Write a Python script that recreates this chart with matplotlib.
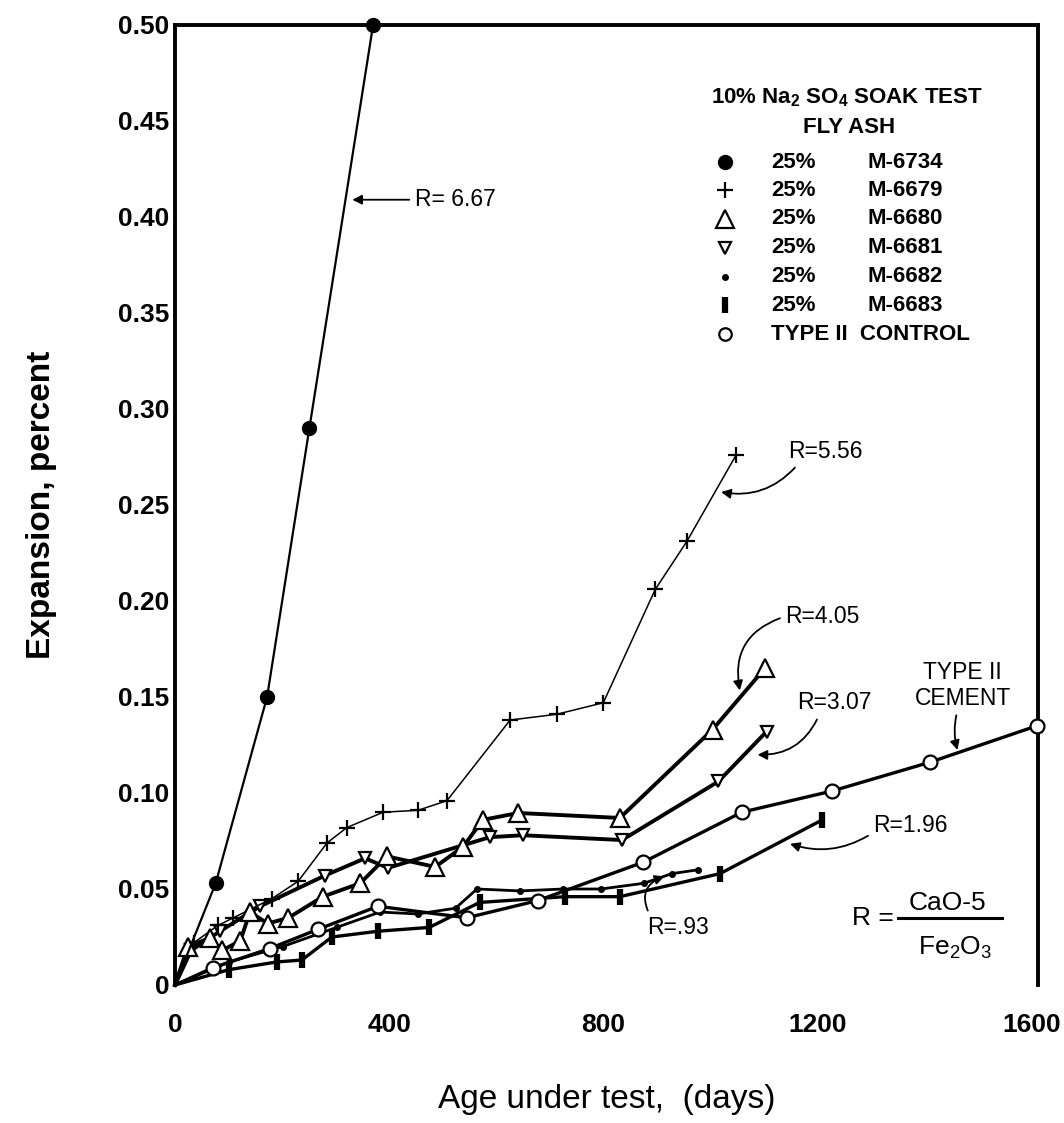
import matplotlib
matplotlib.use('Agg')
import matplotlib.pyplot as plt

plt.rcParams['font.family'] = ['Liberation Sans', 'DejaVu Sans']
plt.rcParams['mathtext.default'] = 'regular'

# ---------------- data (days, expansion %) ----------------
days_6734 = [0, 76, 172, 251, 370]
exp_6734 = [0, 0.053, 0.150, 0.29, 0.50]

days_6679 = [0, 35, 80, 109, 181, 230, 284, 321, 389, 454, 508, 626, 713, 800, 897, 956, 1048]
exp_6679 = [0, 0.022, 0.031, 0.035, 0.045, 0.054, 0.074, 0.082, 0.090, 0.091, 0.096,
            0.138, 0.141, 0.147, 0.206, 0.231, 0.276]

days_6680 = [0, 24, 65, 88, 122, 140, 173, 212, 276, 346, 396, 486, 538, 575, 641, 831, 1004, 1102]
exp_6680 = [0, 0.020, 0.0245, 0.018, 0.023, 0.038, 0.032, 0.035, 0.046, 0.053, 0.067,
            0.0615, 0.072, 0.086, 0.0896, 0.087, 0.133, 0.165]

days_6681 = [0, 30, 84, 159, 280, 355, 398, 588, 650, 835, 1015, 1105]
exp_6681 = [0, 0.018, 0.028, 0.041, 0.057, 0.066, 0.061, 0.077, 0.078, 0.0755, 0.106, 0.132]

days_6682 = [0, 101, 201, 302, 383, 453, 524, 564, 645, 725, 796, 876, 928, 977]
exp_6682 = [0, 0.012, 0.020, 0.030, 0.038, 0.037, 0.040, 0.050, 0.049, 0.050, 0.050, 0.053, 0.058, 0.060]

days_6683 = [0, 101, 190, 237, 293, 379, 475, 569, 728, 831, 1018, 1209]
exp_6683 = [0, 0.008, 0.012, 0.013, 0.025, 0.028, 0.030, 0.043, 0.046, 0.046, 0.058, 0.086]

days_ctrl = [0, 71, 177, 267, 379, 545, 678, 875, 1059, 1227, 1410, 1610]
exp_ctrl = [0, 0.009, 0.019, 0.029, 0.041, 0.035, 0.044, 0.064, 0.090, 0.101, 0.116, 0.135]

x_ticks = [0, 400, 800, 1200, 1600]
x_ticklabels = ['0', '400', '800', '1200', '1600']
y_ticks = [0, 0.05, 0.10, 0.15, 0.20, 0.25, 0.30, 0.35, 0.40, 0.45, 0.50]
y_ticklabels = ['0', '0.05', '0.10', '0.15', '0.20', '0.25', '0.30', '0.35', '0.40', '0.45', '0.50']

legend_pct = ['25%', '25%', '25%', '25%', '25%', '25%']
legend_ids = ['M-6734', 'M-6679', 'M-6680', 'M-6681', 'M-6682', 'M-6683']

# ---------------- figure ----------------
fig = plt.figure(figsize=(10.64, 11.23), dpi=100)
ax = fig.add_axes([175/1064, 1-985/1123, 863/1064, 960/1123])

K = 'black'
me = slice(1, None)
common = dict(color=K, clip_on=False, markevery=me)

ax.plot(days_6683, exp_6683, lw=2.4, marker='|', ms=12, mew=4.5, **common, zorder=3)
ax.plot(days_6682, exp_6682, lw=2.0, marker='o', ms=4, **common, zorder=3)
ax.plot(days_ctrl, exp_ctrl, lw=2.4, marker='o', ms=10, mfc='white', mew=1.6, **common, zorder=4)
ax.plot(days_6681, exp_6681, lw=2.8, marker='v', ms=9, mfc='white', mew=1.6, **common, zorder=4)
ax.plot(days_6680, exp_6680, lw=2.8, marker='^', ms=13, mfc='white', mew=1.6, **common, zorder=5)
ax.plot(days_6679, exp_6679, lw=1.1, marker='+', ms=12, mew=1.6, **common, zorder=4)
ax.plot(days_6734, exp_6734, lw=1.6, marker='o', ms=10, **common, zorder=6)

ax.set_xlim(0, 1612)
ax.set_ylim(0, 0.5)
ax.set_xticks(x_ticks)
ax.set_xticklabels(x_ticklabels)
ax.set_yticks(y_ticks)
ax.set_yticklabels(y_ticklabels)
ax.tick_params(length=0, labelsize=19)
ax.tick_params(axis='y', pad=4)
ax.tick_params(axis='x', pad=20)
for lab in ax.get_xticklabels() + ax.get_yticklabels():
    lab.set_fontweight('bold')
for s in ['left', 'top', 'right']:
    ax.spines[s].set_linewidth(2.8)
ax.spines['bottom'].set_visible(False)

ax.set_ylabel('Expansion, percent', fontsize=24, fontweight='bold', labelpad=44)
ax.set_xlabel('Age under test,  (days)', fontsize=24, labelpad=34)

# ---------------- annotations ----------------
fs = 16.5
ap = dict(arrowstyle='-|>', color=K, lw=1.3, mutation_scale=14)
ax.annotate('R= 6.67', xy=(326, 0.409), xytext=(448, 0.409), fontsize=fs, va='center',
            arrowprops=dict(ap, connectionstyle='arc3,rad=0'))
ax.annotate('R=5.56', xy=(1015, 0.257), xytext=(1145, 0.278), fontsize=fs, va='center',
            arrowprops=dict(ap, connectionstyle='arc3,rad=-0.3', relpos=(0.15, 0)))
ax.annotate('R=4.05', xy=(1056, 0.152), xytext=(1140, 0.192), fontsize=fs, va='center',
            arrowprops=dict(ap, connectionstyle='arc3,rad=0.45', relpos=(0, 0.5)))
ax.annotate('R=3.07', xy=(1083, 0.120), xytext=(1162, 0.147), fontsize=fs, va='center',
            arrowprops=dict(ap, connectionstyle='arc3,rad=-0.35', relpos=(0.3, 0)))
ax.annotate('TYPE II\nCEMENT', xy=(1463, 0.121), xytext=(1471, 0.156), fontsize=fs,
            ha='center', va='center', linespacing=1.15,
            arrowprops=dict(ap, connectionstyle='arc3,rad=0.15', relpos=(0.45, 0)))
ax.annotate('R=1.96', xy=(1144, 0.074), xytext=(1304, 0.083), fontsize=fs, va='center',
            arrowprops=dict(ap, connectionstyle='arc3,rad=-0.25', relpos=(0, 0.2)))
ax.annotate('R=.93', xy=(919, 0.057), xytext=(882, 0.030), fontsize=fs, va='center',
            arrowprops=dict(ap, connectionstyle='arc3,rad=-0.6', relpos=(0.05, 1)))

# formula
ff = 19
ax.text(1264, 0.035, 'R =', fontsize=ff, va='center', ha='left')
ax.text(1443, 0.0425, 'CaO-5', fontsize=ff, va='center', ha='center')
ax.text(1457, 0.0195, 'Fe$_2$O$_3$', fontsize=ff, va='center', ha='center')
ax.plot([1350, 1545], [0.035, 0.035], color=K, lw=2.2)

# ---------------- legend (drawn as text) ----------------
lf = 16
ax.text(0.778, 0.924, '10% Na$_2$ SO$_4$ SOAK TEST', transform=ax.transAxes,
        fontsize=lf, ha='center', va='center', fontweight='bold')
ax.text(0.781, 0.893, 'FLY ASH', transform=ax.transAxes,
        fontsize=lf, ha='center', va='center', fontweight='bold')
row_y = [0.857, 0.828, 0.798, 0.768, 0.7375, 0.708, 0.678]
leg_markers = [dict(marker='o', ms=10, mfc=K),
               dict(marker='+', ms=12, mew=1.6),
               dict(marker='^', ms=13, mfc='white', mew=1.6),
               dict(marker='v', ms=9, mfc='white', mew=1.6),
               dict(marker='o', ms=4, mfc=K),
               dict(marker='|', ms=12, mew=4.5),
               dict(marker='o', ms=9, mfc='white', mew=1.6)]
for i, y in enumerate(row_y):
    ax.plot([0.637], [y], transform=ax.transAxes, color=K, ls='none', clip_on=False, **leg_markers[i])
    if i < 6:
        ax.text(0.691, y, legend_pct[i], transform=ax.transAxes, fontsize=lf,
                va='center', fontweight='bold')
        ax.text(0.803, y, legend_ids[i], transform=ax.transAxes, fontsize=lf,
                va='center', fontweight='bold')
    else:
        ax.text(0.691, y, 'TYPE II  CONTROL', transform=ax.transAxes, fontsize=lf,
                va='center', fontweight='bold')

fig.savefig('out.png', dpi=100)
